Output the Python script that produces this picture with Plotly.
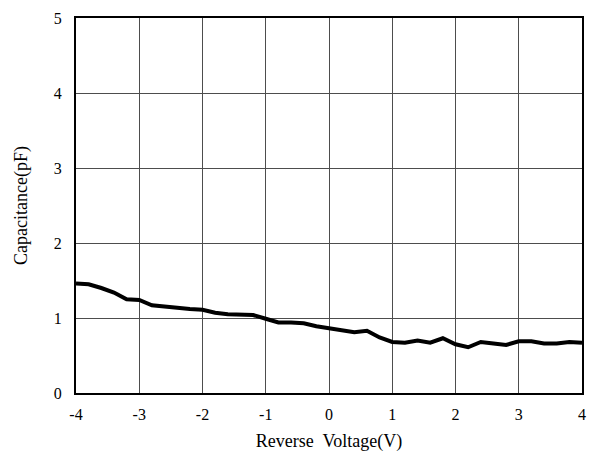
import plotly.graph_objects as go

# Reverse voltage sweep (V) and measured capacitance (pF)
voltage = [-4.0, -3.8, -3.6, -3.4, -3.2, -3.0, -2.8, -2.6, -2.4, -2.2, -2.0,
           -1.8, -1.6, -1.4, -1.2, -1.0, -0.8, -0.6, -0.4, -0.2, 0.0,
           0.2, 0.4, 0.6, 0.8, 1.0, 1.2, 1.4, 1.6, 1.8, 2.0,
           2.2, 2.4, 2.6, 2.8, 3.0, 3.2, 3.4, 3.6, 3.8, 4.0]
capacitance = [1.46, 1.45, 1.40, 1.34, 1.25, 1.24, 1.17, 1.15, 1.14, 1.12, 1.11,
               1.07, 1.05, 1.04, 1.04, 0.99, 0.94, 0.94, 0.93, 0.89, 0.86,
               0.84, 0.81, 0.83, 0.74, 0.68, 0.67, 0.70, 0.67, 0.73, 0.65,
               0.61, 0.68, 0.66, 0.64, 0.69, 0.69, 0.66, 0.66, 0.68, 0.67]

x_ticks = [-4, -3, -2, -1, 0, 1, 2, 3, 4]
x_labels = ["-4", "-3", "-2", "-1", "0", "1", "2", "3", "4"]
y_ticks = [0, 1, 2, 3, 4, 5]
y_labels = ["0", "1", "2", "3", "4", "5"]

font = dict(family="Liberation Serif, Times New Roman, serif", color="black")

fig = go.Figure()
fig.add_trace(go.Scatter(
    x=voltage, y=capacitance, mode="lines",
    line=dict(color="black", width=4),
    showlegend=False,
))

axis_common = dict(
    showgrid=True, gridcolor="#4d4d4d", gridwidth=1,
    showline=True, linecolor="black", linewidth=2, mirror=True,
    ticks="", zeroline=False,
    tickfont=dict(size=16, **font),
)

fig.update_layout(
    width=600, height=465,
    margin=dict(l=76, r=18, t=10, b=72),
    paper_bgcolor="white", plot_bgcolor="white",
    font=dict(size=16, **font),
    xaxis=dict(range=[-4, 4], tickvals=x_ticks, ticktext=x_labels,
               ticklabelstandoff=6,
               title=dict(text="Reverse\u00a0 Voltage(V)", font=dict(size=18, **font), standoff=12),
               **axis_common),
    yaxis=dict(range=[0, 5], tickvals=y_ticks, ticktext=y_labels,
               ticklabelstandoff=9,
               title=dict(text="Capacitance(pF)", font=dict(size=18, **font), standoff=21),
               **axis_common),
)

fig.write_html("out.html")
